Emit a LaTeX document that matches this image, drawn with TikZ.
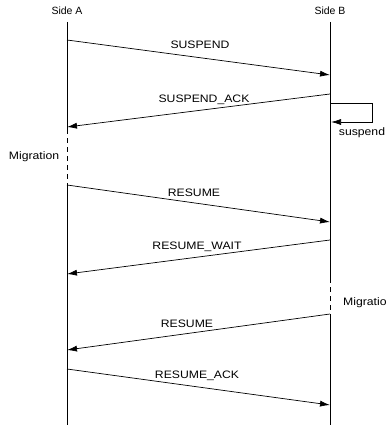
\documentclass[tikz,border=0pt]{standalone}
\usepackage{fontspec}
\setmainfont{Liberation Sans}
\usetikzlibrary{arrows.meta}
\newcommand\widetxt[1]{\scalebox{1.13}[1]{#1}}
\tikzset{
  life/.style={line width=0.8pt, black},
  gap/.style={line width=0.8pt, black, dash pattern=on 5pt off 4pt},
  msg/.style={line width=0.7pt, black, -{Latex[length=10pt,width=6pt]}},
  lbl/.style={font=\fontsize{10.8}{12}\selectfont, inner sep=0pt, anchor=center},
  head/.style={font=\fontsize{10.5}{12}\selectfont, inner sep=0pt, anchor=center}
}
\begin{document}
\begin{tikzpicture}[x=1pt,y=-1pt]
\useasboundingbox (0,0) rectangle (387,425);
\clip (0,0) rectangle (387,425);
% headers
\node[head] (sa) at (67,11) {Side A};
\node[head] (sb) at (330,11) {Side B};
% lifeline coordinates
\coordinate (at) at (67,22);
\coordinate (ad1) at (67,129);
\coordinate (ad2) at (67,185);
\coordinate (ab) at (67,425);
\coordinate (bt) at (330,22);
\coordinate (bd1) at (330,278);
\coordinate (bd2) at (330,314);
\coordinate (bb) at (330,425);
\draw[life] (at) -- (ad1);
\draw[gap] (ad1) -- (ad2);
\draw[life] (ad2) -- (ab);
\draw[life] (bt) -- (bd1);
\draw[gap] (bd1) -- (bd2);
\draw[life] (bd2) -- (bb);
% message endpoints
\coordinate (m1s) at (67,40);  \coordinate (m1e) at (330,75);
\coordinate (m2s) at (330,94); \coordinate (m2e) at (67,127);
\coordinate (m3s) at (67,185); \coordinate (m3e) at (330,222);
\coordinate (m4s) at (330,240);\coordinate (m4e) at (67,274);
\coordinate (m5s) at (330,314);\coordinate (m5e) at (67,350);
\coordinate (m6s) at (67,369); \coordinate (m6e) at (330,405);
\draw[msg] (m1s) -- (m1e);
\draw[msg] (m2s) -- (m2e);
\draw[msg] (m3s) -- (m3e);
\draw[msg] (m4s) -- (m4e);
\draw[msg] (m5s) -- (m5e);
\draw[msg] (m6s) -- (m6e);
% self loop
\coordinate (s1) at (331,103);
\coordinate (s2) at (372,103);
\coordinate (s3) at (372,122);
\coordinate (s4) at (331,122);
\draw[msg] (s1) -- (s2) -- (s3) -- (s4);
% labels
\node[lbl] (l1) at (200,45) {\widetxt{SUSPEND}};
\node[lbl] (l2) at (204,100) {\widetxt{SUSPEND\_ACK}};
\node[lbl] (l3) at (362,133) {\widetxt{suspend}};
\node[lbl] (l4) at (34,157) {\widetxt{Migration}};
\node[lbl] (l5) at (194,193) {\widetxt{RESUME}};
\node[lbl] (l6) at (197,247) {\widetxt{RESUME\_WAIT}};
\node[lbl, anchor=west] (l7) at (343,303) {\widetxt{Migratio}};
\node[lbl] (l8) at (187,324) {\widetxt{RESUME}};
\node[lbl] (l9) at (197,376) {\widetxt{RESUME\_ACK}};
\end{tikzpicture}
\end{document}
